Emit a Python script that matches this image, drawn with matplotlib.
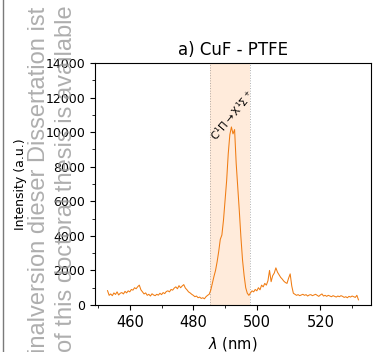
import numpy as np
import matplotlib
matplotlib.use("Agg")
import matplotlib.pyplot as plt
from matplotlib.lines import Line2D
from matplotlib.ticker import MultipleLocator

# Emission spectrum sampled every 0.5 nm from 453.0 to 532.0 nm
wl_start, wl_step = 453.0, 0.5
intensity = [
    # 453.0 - 457.5
    830, 560, 640, 540, 700, 610, 760, 580, 680, 720,
    # 458.0 - 462.5
    640, 790, 700, 820, 760, 900, 860, 1000, 940, 1060,
    # 463.0 - 467.5
    1150, 880, 760, 640, 700, 560, 620, 520, 650, 580,
    # 468.0 - 472.5
    540, 620, 570, 680, 600, 720, 660, 780, 820, 760,
    # 473.0 - 477.5
    900, 860, 980, 1050, 940, 1120, 1000, 1100, 1180, 980,
    # 478.0 - 482.5
    880, 760, 700, 620, 560, 480, 520, 420, 460, 380,
    # 483.0 - 487.5
    420, 360, 480, 560, 620, 860, 1250, 1650, 2000, 2500,
    # 488.0 - 492.5
    3100, 3800, 4050, 4900, 6050, 7200, 8750, 9850, 10300, 9900,
    # 493.0 - 497.5
    10150, 8200, 6800, 5400, 3900, 2600, 1700, 1000, 680, 560,
    # 498.0 - 502.5
    700, 820, 760, 900, 820, 1000, 880, 1150, 1050, 1250,
    # 503.0 - 507.5
    1150, 1400, 2000, 1350, 1700, 1850, 2150, 1900, 1750, 1600,
    # 508.0 - 512.5
    1500, 1380, 1300, 1250, 1550, 1800, 1100, 680, 620, 560,
    # 513.0 - 517.5
    600, 540, 580, 620, 560, 600, 520, 580, 600, 540,
    # 518.0 - 522.5
    580, 620, 560, 500, 580, 640, 520, 560, 500, 560,
    # 523.0 - 527.5
    520, 480, 540, 500, 460, 520, 480, 540, 500, 440,
    # 528.0 - 532.0
    480, 420, 500, 460, 520, 480, 440, 560, 300,
]
wavelength = wl_start + wl_step * np.arange(len(intensity))

band_lo, band_hi = 485.3, 498.0
band_label = r"$\mathrm{C^1\Pi\rightarrow X^1\Sigma^+}$"
band_label_pos = (492.3, 10950)

fig = plt.figure(figsize=(3.74, 3.52), dpi=100)
ax = fig.add_axes([0.254, 0.1335, 0.738, 0.6875])

ax.axvspan(band_lo, band_hi, color="tab:orange", alpha=0.15, lw=0, zorder=0)
for xb in (band_lo, band_hi):
    ax.axvline(xb, color="gray", lw=0.7, ls=":", alpha=0.6, zorder=1)

ax.plot(wavelength, intensity, color="#f07c12", lw=0.75, zorder=2)

ax.text(*band_label_pos, band_label, rotation=50, rotation_mode="anchor",
        ha="center", va="center", fontsize=7.5)

ax.set_ylim(0, 14000)
ax.yaxis.set_major_locator(MultipleLocator(2000))
ax.yaxis.set_minor_locator(MultipleLocator(1000))
ax.xaxis.set_major_locator(MultipleLocator(20))
ax.xaxis.set_minor_locator(MultipleLocator(10))
ax.tick_params(axis="x", labelsize=10.5)
ax.tick_params(axis="y", labelsize=9)

ax.set_title("a) CuF - PTFE", fontsize=12)
ax.set_xlabel(r"$\lambda$ (nm)", fontsize=10.5)
ax.set_ylabel("Intensity (a.u.)", fontsize=9)
ax.yaxis.set_label_coords(-0.245, 0.5)

# Library watermark along the left margin
wm_kw = dict(rotation=90, rotation_mode="anchor", ha="left", va="baseline",
             family="Liberation Sans", fontsize=17, color="#9a9a9a",
             alpha=0.8, zorder=10)
fig.text(45 / 374, -0.004, "inalversion dieser Dissertation ist", **wm_kw)
fig.text(72 / 374, 0.0, "of this doctoral thesis is available", **wm_kw)
fig.add_artist(Line2D([3.5 / 374, 3.5 / 374], [0, 1], transform=fig.transFigure,
                      color="#7a7a7a", lw=1.0))

fig.savefig("out.png", dpi=100)
